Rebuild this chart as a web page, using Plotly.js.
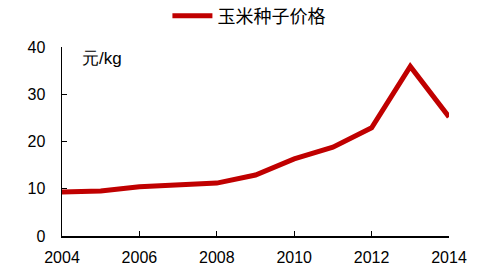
<!DOCTYPE html>
<html>
<head>
<meta charset="utf-8">
<script src="https://cdn.plot.ly/plotly-3.0.1.min.js"></script>
<style>html,body{margin:0;padding:0;background:#fff;}#chart{width:481px;height:266px;}</style>
</head>
<body>
<div id="chart"></div>
<script>
var years = [2004, 2005, 2006, 2007, 2008, 2009, 2010, 2011, 2012, 2013, 2014];
var prices = [9.3, 9.5, 10.4, 10.7, 11.2, 12.9, 16.3, 18.8, 22.9, 35.9, 25.2];
var seriesName = "玉米种子价格";
var unitLabel = "元/kg";

var trace = {
  x: years, y: prices, type: "scatter", mode: "lines", name: seriesName,
  line: {color: "#C00000", width: 5}, cliponaxis: false
};
var layout = {
  width: 481, height: 266,
  margin: {l: 62, r: 32, t: 47, b: 30, autoexpand: false},
  paper_bgcolor: "#fff", plot_bgcolor: "#fff",
  showlegend: true,
  legend: {orientation: "h", x: 0.483, xanchor: "center", y: 0.164 + 1, yanchor: "middle",
    font: {family: "Noto Sans CJK SC", size: 18, color: "#000"}, itemwidth: 40},
  xaxis: {range: [2004, 2014], tickvals: [2004, 2006, 2008, 2010, 2012, 2014],
    ticks: "inside", ticklen: 5, tickcolor: "#000", showline: true, linecolor: "#000", linewidth: 1.5,
    showgrid: false, zeroline: false, ticklabelstandoff: 6, tickfont: {family: "Arial", size: 16, color: "#000"}},
  yaxis: {range: [0, 40], tickvals: [0, 10, 20, 30, 40],
    ticks: "inside", ticklen: 5, tickcolor: "#000", showline: true, linecolor: "#000", linewidth: 1.5,
    showgrid: false, zeroline: false, ticklabelstandoff: 12, tickfont: {family: "Arial", size: 16, color: "#000"}},
  annotations: [{text: unitLabel, xref: "paper", yref: "paper", x: 0.0465, y: 0.937, xanchor: "left", yanchor: "middle",
    showarrow: false, font: {family: "Arial", size: 17, color: "#000"}}]
};
Plotly.newPlot("chart", [trace], layout, {displayModeBar: false, staticPlot: true});
</script>
</body>
</html>
